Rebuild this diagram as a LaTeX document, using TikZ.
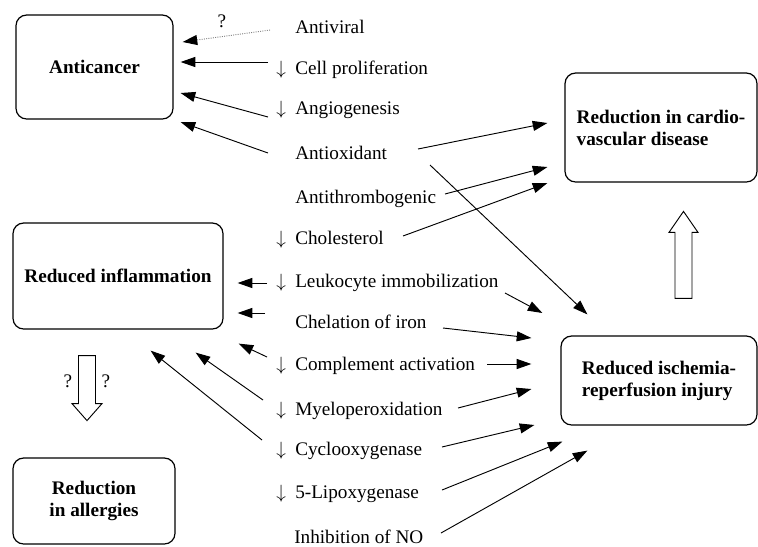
\documentclass[tikz,border=0pt]{standalone}
\usepackage{fontspec}
\setmainfont{Liberation Serif}
\usetikzlibrary{arrows.meta,calc}
\newcommand{\dnarrow}{\llap{$\downarrow$\hspace{7pt}}}

\begin{document}
\begin{tikzpicture}[x=0.75pt,y=-0.75pt,
  font=\fontsize{14.4}{16.5}\selectfont,
  box/.style={draw,line width=0.9pt,rounded corners=8pt,align=center,
    font=\fontsize{14.4}{16.5}\selectfont\bfseries},
  lab/.style={anchor=base west,inner sep=0pt},
  arr/.style={line width=0.7pt,-{Triangle[length=11pt,width=7.5pt,color=black]}},
  hollow/.style={draw,line width=0.7pt,fill=white}]
  \useasboundingbox (0,0) rectangle (758,547);
  % outcome boxes
  \node[box,minimum width=117.75pt,minimum height=78pt] (anticancer) at (94.5,67) {Anticancer};
  \node[box,minimum width=157.5pt,minimum height=79.5pt] (inflam) at (118,276) {Reduced inflammation};
  \node[box,minimum width=121.5pt,minimum height=64.5pt] (allergy) at (94,501) {Reduction\\in allergies};
  \node[box,align=left,minimum width=144pt,minimum height=81.75pt] (cardio) at (661,127.5) {Reduction in cardio-\\vascular disease};
  \node[box,align=left,minimum width=147pt,minimum height=66.75pt] (ischemia) at (659,380.5) {Reduced ischemia-\\reperfusion injury};
  % actions
  \node[lab] (antiviral) at (295,33) {Antiviral};
  \node[lab] (prolif) at (295,74) {\dnarrow Cell proliferation};
  \node[lab] (angio) at (295,114) {\dnarrow Angiogenesis};
  \node[lab] (antiox) at (295,159) {Antioxidant};
  \node[lab] (antithromb) at (295,203) {Antithrombogenic};
  \node[lab] (chol) at (295,244) {\dnarrow Cholesterol};
  \node[lab] (leuko) at (295,287) {\dnarrow Leukocyte immobilization};
  \node[lab] (chel) at (295,328) {Chelation of iron};
  \node[lab] (compl) at (295,370) {\dnarrow Complement activation};
  \node[lab] (myelo) at (295,415) {\dnarrow Myeloperoxidation};
  \node[lab] (cyclo) at (295,455) {\dnarrow Cyclooxygenase};
  \node[lab] (lipox) at (295,498) {\dnarrow 5-Lipoxygenase};
  \node[lab] (noinh) at (294,543) {Inhibition of NO};
  % to anticancer
  \draw[arr,draw=black!50,densely dotted] ($(antiviral.base west)+(-25,-3)$)
    -- node[pos=0.55,above=3pt,text=black] (qav) {?} ($(anticancer.east)+(9,-25)$);
  \draw[arr] ($(prolif.base west)+(-27,-12)$) -- ($(anticancer.east)+(7,-5)$);
  \draw[arr] ($(angio.base west)+(-27,3)$) -- ($(anticancer.east)+(7,26)$);
  \draw[arr] ($(antiox.base west)+(-27,-6)$) -- ($(anticancer.east)+(7,55)$);
  % to reduced inflammation
  \draw[arr] ($(leuko.base west)+(-28,-4)$) -- ($(inflam.east)+(14,7)$);
  \draw[arr] ($(chel.base west)+(-30,-15)$) -- ($(inflam.east)+(14,37)$);
  \draw[arr] ($(compl.base west)+(-28,-13)$) -- ($(inflam.south east)+(15,14)$);
  \draw[arr] ($(myelo.base west)+(-32,-15)$) -- ($(inflam.south east)+(-28,23)$);
  \draw[arr] ($(cyclo.base west)+(-33,-15)$) -- ($(inflam.south east)+(-73,21)$);
  % to cardiovascular disease
  \draw[arr] ($(antiox.base west)+(123,-10)$) -- ($(cardio.west)+(-17,-4.5)$);
  \draw[arr] ($(antithromb.base west)+(150,-9)$) -- ($(cardio.west)+(-17,39.5)$);
  \draw[arr] ($(chol.base west)+(108,-8)$) -- ($(cardio.west)+(-17,55.5)$);
  % to ischemia-reperfusion injury
  \draw[arr] ($(antiox.base west)+(135,6)$) -- ($(ischemia.north west)+(27,-21)$);
  \draw[arr] ($(leuko.base west)+(210,6)$) -- ($(ischemia.west)+(-18,-67.5)$);
  \draw[arr] ($(chel.base west)+(148,0)$) -- ($(ischemia.west)+(-29,-42.5)$);
  \draw[arr] ($(compl.base west)+(192,-6)$) -- ($(ischemia.west)+(-29,-16.5)$);
  \draw[arr] ($(myelo.base west)+(163,-7)$) -- ($(ischemia.west)+(-29,8.5)$);
  \draw[arr] ($(cyclo.base west)+(147,-8)$) -- ($(ischemia.west)+(-26,44.5)$);
  \draw[arr] ($(lipox.base west)+(147,-8)$) -- ($(ischemia.south west)+(2,16)$);
  \draw[arr] ($(noinh.base west)+(147,-10)$) -- ($(ischemia.south west)+(27,25)$);
  % hollow arrows
  \coordinate (dtop) at ($(inflam.south)+(-31,26)$);
  \draw[hollow] (dtop) ++(-8.5,0) -- ++(0,48) -- ++(-6.5,0) -- ++(15,17)
    -- ++(15,-17) -- ++(-6.5,0) -- ++(0,-48) -- cycle;
  \node (qleft) at ($(dtop)+(-19,26)$) {?};
  \node (qright) at ($(dtop)+(19,26)$) {?};
  \coordinate (ubot) at ($(ischemia.north)+(24.5,-37)$);
  \draw[hollow] (ubot) ++(-8.5,0) -- ++(0,-66) -- ++(-6,0) -- ++(14.5,-21)
    -- ++(14.5,21) -- ++(-6,0) -- ++(0,66) -- cycle;
\end{tikzpicture}
\end{document}
